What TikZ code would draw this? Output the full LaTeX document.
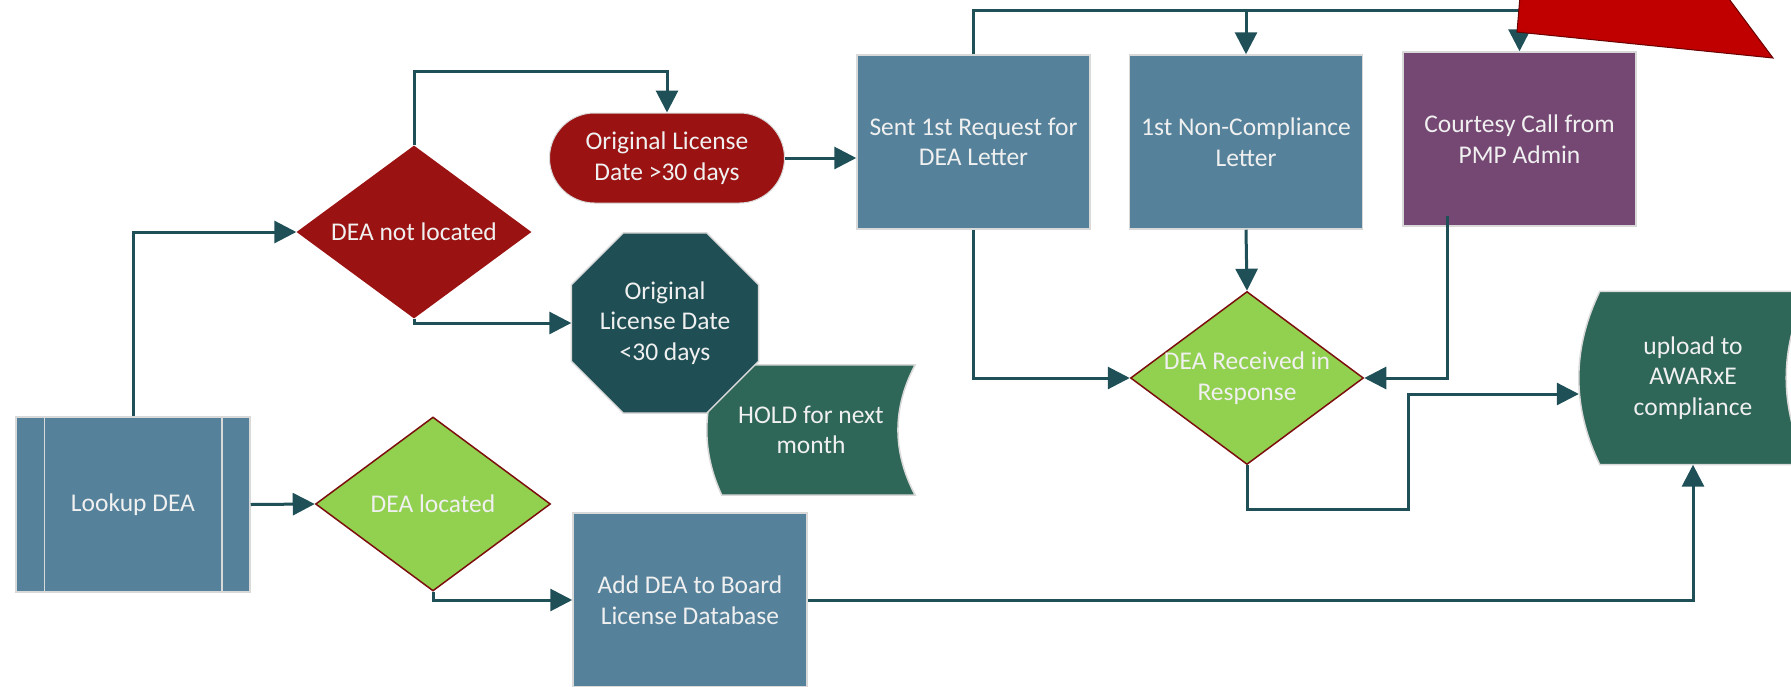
\documentclass[tikz,border=0pt]{standalone}
\usepackage{fontspec}
\setmainfont{Carlito}
\usetikzlibrary{arrows.meta,shapes.geometric,backgrounds}

\definecolor{linecol}{HTML}{1F5057}
\definecolor{boxblue}{HTML}{55829A}
\definecolor{darkred}{HTML}{9B1212}
\definecolor{octcol}{HTML}{1F4F54}
\definecolor{storecol}{HTML}{2E6657}
\definecolor{okgreen}{HTML}{92D050}
\definecolor{plum}{HTML}{754873}
\definecolor{flagred}{HTML}{C00000}

\tikzset{
  txt/.style={text=white!94!black, font=\fontsize{25.5}{30.5}\selectfont, align=center, inner sep=0pt},
  proc/.style={txt, rectangle, fill=boxblue, draw=black!15, line width=1.5pt,
    minimum width=233pt, minimum height=174pt},
  decide/.style={diamond, inner sep=0pt, minimum width=235pt, minimum height=174pt},
  arr/.style={draw=linecol, line width=3pt, -{Triangle[length=22pt,width=22pt]}},
}

\begin{document}
\begin{tikzpicture}[x=1pt,y=-1pt]
  \useasboundingbox (0,0) rectangle (1791,686);
  \clip (0,0) rectangle (1791,686);

  \node (look) [proc, minimum width=234pt, minimum height=175pt] at (133,504.5) {Lookup DEA};
  \draw[black!15, line width=1.5pt] ([xshift=29pt]look.north west) -- ([xshift=29pt]look.south west)
    ([xshift=-29pt]look.north east) -- ([xshift=-29pt]look.south east);

  \node (dnl) [decide, fill=darkred, minimum height=173pt,
    label={[txt]center:DEA not located}] at (414,232) {};
  \node (dl) [decide, fill=okgreen, draw=darkred!80!black, line width=1.5pt,
    label={[txt]center:DEA located}] at (433,504) {};
  \node (gt30) [txt, rectangle, rounded corners=45pt, fill=darkred, draw=black!15, line width=1pt,
    minimum width=235pt, minimum height=90pt] at (667,158) {Original License\\Date >30 days};

  \node (hold) [txt, minimum width=208pt, minimum height=130pt] at (811,430) {HOLD for next\\month};
  \node (lt30) [txt, minimum width=187pt, minimum height=180pt] at (665,323) {Original\\License Date\\<30 days};
  \begin{scope}[on background layer]
    \filldraw[fill=storecol, draw=black!15, line width=1.5pt]
      ([xshift=15pt]hold.north west) .. controls +(-20,43) and +(-20,-43) .. ([xshift=15pt]hold.south west)
      -- (hold.south east) .. controls +(-23,-43) and +(-23,43) .. (hold.north east) -- cycle;
    % octagon cut 52
    \filldraw[fill=octcol, draw=black!15, line width=1.5pt]
      ([xshift=52pt]lt30.north west) -- ([xshift=-52pt]lt30.north east) -- ([yshift=-52pt]lt30.north east)
      -- ([yshift=52pt]lt30.south east) -- ([xshift=-52pt]lt30.south east) -- ([xshift=52pt]lt30.south west)
      -- ([yshift=52pt]lt30.south west) -- ([yshift=-52pt]lt30.north west) -- cycle;
  \end{scope}

  \node (sent) [proc] at (973.5,142) {Sent 1st Request for\\DEA Letter};
  \node (nc) [proc] at (1246,142) {1st Non-Compliance\\Letter};
  \node (cc) [proc, fill=plum] at (1519.5,139) {Courtesy Call from\\PMP Admin};
  \node (dr) [decide, fill=okgreen, draw=darkred!80!black, line width=1.5pt, minimum width=233pt, minimum height=173pt,
    label={[txt]center:{DEA Received in\\Response}}] at (1247,378) {};

  \node (up) [txt, minimum width=228pt, minimum height=173pt] at (1693,378) {upload to\\AWARxE\\compliance};
  \begin{scope}[on background layer]
    \filldraw[fill=storecol, draw=black!15, line width=1.5pt]
      ([xshift=21pt]up.north west) .. controls +(-28,58) and +(-28,-58) .. ([xshift=21pt]up.south west)
      -- (up.south east) .. controls +(-28,-58) and +(-28,58) .. (up.north east) -- cycle;
  \end{scope}

  \node (add) [proc, minimum width=234pt] at (690,600) {Add DEA to Board\\License Database};

  \path[arr] (look.north) |- (dnl.west);
  \path[arr] (look.east) -- (dl.west);
  \path[arr] (dnl.north) -- ++(0,-74) -| (gt30.north);
  \path[arr] (dnl.south) |- (lt30.west);
  \path[arr] (dl.south) |- (add.west);
  \path[arr] (gt30.east) -- (gt30.east -| sent.west);
  \path[arr] (sent.north) -- ++(0,-44) -| (cc.north);
  \path[arr] ([yshift=44pt]nc.north) -- (nc.north);
  \path[arr] (sent.south) |- (dr.west);
  \path[arr] (nc.south) -- (dr.north);
  \path[arr] ([xshift=-72pt,yshift=11pt]cc.south) |- (dr.east);
  \path[arr] (dr.south) -- ++(0,44) -- ++(161,0) |- ([yshift=-16pt]up.west);
  \path[arr] (add.east) -| (up.south);
%  \path[arr] (hold.east) -- (up.west);

  \filldraw[fill=flagred, draw=black!45!flagred, line width=1pt]
    (1517,32) -- (1773,58) -- (1700,-40) -- (1523,-40) -- cycle;
\end{tikzpicture}
\end{document}
